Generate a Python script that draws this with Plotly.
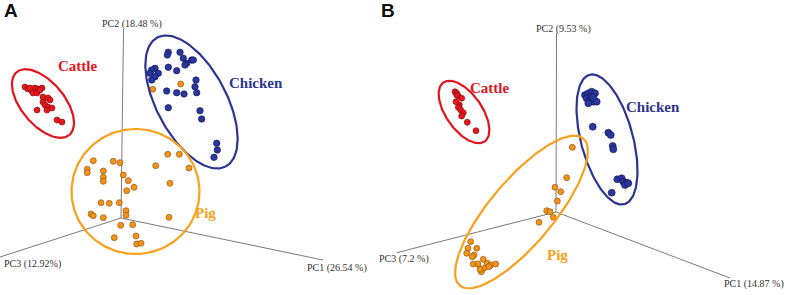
import numpy as np
import plotly.graph_objects as go

# ---------------- Data (projected PCA score positions) ----------------
# Panel A
A_cattle_x = [25, 28, 32, 35, 38, 42, 33, 37, 43, 48, 43, 50, 45, 48, 52, 37, 47, 57, 62, 40, 30]
A_cattle_y = [87, 89, 91, 88, 89, 88, 93, 93, 97, 98, 102, 100, 105, 107, 108, 110, 110, 120, 122, 90, 88]

A_chicken_x = [168.3, 167.3, 180, 183.3, 186.7, 191.7, 193.3, 185, 155, 151.7, 158.3, 150, 155, 151.7,
               168.3, 176.7, 166.7, 176.7, 184, 196, 195, 196.7, 168.3, 200, 201.7, 216.7, 217.3, 214]
A_chicken_y = [52.3, 55, 52.3, 58.3, 63.3, 60, 60, 65, 68.3, 70, 73.3, 73.3, 76.7, 80,
               67.3, 70.7, 91, 92.7, 94, 80, 86.7, 92.7, 107.7, 110.7, 119, 143.3, 150, 157.3]

A_pig_x = [93.3, 113.3, 120, 87.3, 87.3, 103.3, 103.3, 103.3, 123.3, 128.3, 126.7, 134, 101, 109.3,
           119.3, 126, 126, 91, 93.3, 103.3, 120.7, 132.7, 114.3, 136, 136.7, 141, 155.7, 167.7,
           179.3, 189, 170, 169, 180.7, 152.7]
A_pig_y = [160.7, 161.3, 162.7, 169.3, 172.7, 171, 177.3, 181.3, 175, 180.7, 190.7, 187.3, 202.7, 203.3,
           202.7, 210.7, 215.3, 214, 215.7, 217.7, 225.3, 224.7, 237.7, 236, 244, 243.3, 165.7, 154.3,
           154.3, 168, 183.3, 217.3, 84, 89.3]

# Panel B
B_cattle_x = [455, 456.7, 458.3, 461.7, 456.7, 459.3, 458.3, 460.7, 463.3, 461.7, 467.3, 476, 456]
B_cattle_y = [91.7, 93.3, 96, 98.3, 95, 105, 107.3, 110, 112.7, 116, 122.3, 130.7, 101.7]

B_chicken_x = [585, 588.3, 591.7, 595, 586.7, 590, 593.3, 596.7, 588.3, 591.7, 593.3,
               592.7, 608.3, 610.7, 612.7, 613.3, 617.3, 621.7, 623.3, 626.7, 625, 628.3, 611.7]
B_chicken_y = [95, 93.3, 91.7, 93.3, 98.3, 100, 101.7, 101.7, 103.3, 96.7, 97.3,
               126.7, 132.7, 135, 146, 149.3, 179.3, 178.3, 181.7, 182.7, 185, 183.3, 192.7]

B_pig_x = [572.3, 566.7, 555, 560.7, 557.3, 546.7, 550, 553.3, 539,
           470.7, 468, 476.7, 466.7, 474, 472.3, 483.3, 487.3, 490.7, 495.7, 473.3, 478, 484,
           481.3, 489, 480]
B_pig_y = [147.3, 177.7, 187.3, 191.7, 201, 210.7, 211.7, 217.3, 222.3,
           241.7, 248.3, 248.3, 253.3, 255, 256.7, 259.3, 263.3, 265, 264, 264, 264, 268.3,
           271.7, 266.7, 269.3]

# Axes of the 3-D projection: origin -> PC1 end, origin -> PC2 end, origin -> PC3 end
A_axis_origin = (121, 218)
A_axis_ends = {"PC1": (323, 260), "PC2": (123.5, 29), "PC3": (0, 257)}
B_axis_origin = (556, 212)
B_axis_ends = {"PC1": (730, 278), "PC2": (556.5, 33), "PC3": (396.7, 252.7)}

A_axis_labels = {"PC1": "PC1 (26.54 %)", "PC2": "PC2 (18.48 %)", "PC3": "PC3 (12.92%)"}
B_axis_labels = {"PC1": "PC1 (14.87 %)", "PC2": "PC2 (9.53 %)", "PC3": "PC3 (7.2 %)"}

# Confidence ellipses: centre x, centre y, semi-major, semi-minor, angle (deg, screen)
groups = ["Cattle", "Chicken", "Pig"]
A_ell_cx = [43, 191.5, 135.5]
A_ell_cy = [103.5, 102, 191.5]
A_ell_a = [41, 73, 64]
A_ell_b = [21.5, 35, 62.5]
A_ell_ang = [50, 62, 0]

B_ell_cx = [464, 607, 521.5]
B_ell_cy = [112, 139.5, 212]
B_ell_a = [36, 67, 96]
B_ell_b = [18, 26, 32]
B_ell_ang = [55, 75, -50]

# Group label positions
A_lab_x = [77, 256, 205]
A_lab_y = [66, 83, 213]
B_lab_x = [489, 653, 557]
B_lab_y = [88, 107, 255]

# ---------------- Styling ----------------
pt_col = {"Cattle": "#e8161d", "Chicken": "#2a36a0", "Pig": "#f39419"}
pt_edge = {"Cattle": "#7a0a0a", "Chicken": "#10164a", "Pig": "#8a4a05"}
ell_col = {"Cattle": "#e2141c", "Chicken": "#2d3592", "Pig": "#f7a11c"}
txt_col = {"Cattle": "#e2141c", "Chicken": "#2d3592", "Pig": "#f7a11c"}

fig = go.Figure()


def ellipse(cx, cy, a, b, ang):
    t = np.linspace(0, 2 * np.pi, 200)
    th = np.deg2rad(ang)
    x = cx + a * np.cos(t) * np.cos(th) - b * np.sin(t) * np.sin(th)
    y = cy + a * np.cos(t) * np.sin(th) + b * np.sin(t) * np.cos(th)
    return x, y


# axes lines
for origin, ends in [(A_axis_origin, A_axis_ends), (B_axis_origin, B_axis_ends)]:
    for k, e in ends.items():
        fig.add_trace(go.Scatter(x=[origin[0], e[0]], y=[origin[1], e[1]], mode="lines",
                                 line=dict(color="#7a7a7a", width=1), hoverinfo="skip",
                                 showlegend=False))

# points
def add_pts(xs, ys, g, size):
    fig.add_trace(go.Scatter(x=xs, y=ys, mode="markers", showlegend=False,
                             marker=dict(size=size, color=pt_col[g],
                                         line=dict(color=pt_edge[g], width=0.6))))


add_pts(A_cattle_x, A_cattle_y, "Cattle", 6)
add_pts(A_chicken_x[:], A_chicken_y, "Chicken", 6.5)
add_pts(A_pig_x, A_pig_y, "Pig", 6)
add_pts(B_cattle_x, B_cattle_y, "Cattle", 6)
add_pts(B_chicken_x, B_chicken_y, "Chicken", 7)
add_pts(B_pig_x, B_pig_y, "Pig", 6)

# ellipses
for cxs, cys, As, Bs, angs in [(A_ell_cx, A_ell_cy, A_ell_a, A_ell_b, A_ell_ang),
                                (B_ell_cx, B_ell_cy, B_ell_a, B_ell_b, B_ell_ang)]:
    for i, g in enumerate(groups):
        ex, ey = ellipse(cxs[i], cys[i], As[i], Bs[i], angs[i])
        fig.add_trace(go.Scatter(x=ex, y=ey, mode="lines", showlegend=False, hoverinfo="skip",
                                 line=dict(color=ell_col[g], width=2.2)))

# group labels
for lx, ly in [(A_lab_x, A_lab_y), (B_lab_x, B_lab_y)]:
    for i, g in enumerate(groups):
        fig.add_annotation(x=lx[i], y=ly[i], text="<b>%s</b>" % g, showarrow=False,
                           font=dict(family="Liberation Serif", size=15, color=txt_col[g]))

# axis labels
axis_font = dict(family="Liberation Serif", size=10, color="#333333")
lab_pos_A = {"PC1": (337, 268), "PC2": (132, 24), "PC3": (32, 264)}
lab_pos_B = {"PC1": (754, 284), "PC2": (563, 29), "PC3": (404, 259)}
for labels, pos in [(A_axis_labels, lab_pos_A), (B_axis_labels, lab_pos_B)]:
    for k, txt in labels.items():
        fig.add_annotation(x=pos[k][0], y=pos[k][1], text=txt, showarrow=False, font=axis_font)

# panel letters
for txt, px in [("A", 11), ("B", 388)]:
    fig.add_annotation(x=px, y=10, text="<b>%s</b>" % txt, showarrow=False,
                       font=dict(family="Liberation Sans", size=19, color="#111111"))

fig.update_layout(width=788, height=295, margin=dict(l=0, r=0, t=0, b=0),
                  paper_bgcolor="white", plot_bgcolor="white",
                  xaxis=dict(range=[0, 788], visible=False, fixedrange=True),
                  yaxis=dict(range=[295, 0], visible=False, fixedrange=True))

fig.write_html("out.html", config={"displayModeBar": False},
               post_script="document.body.style.margin='0';document.body.style.overflow='hidden';")
